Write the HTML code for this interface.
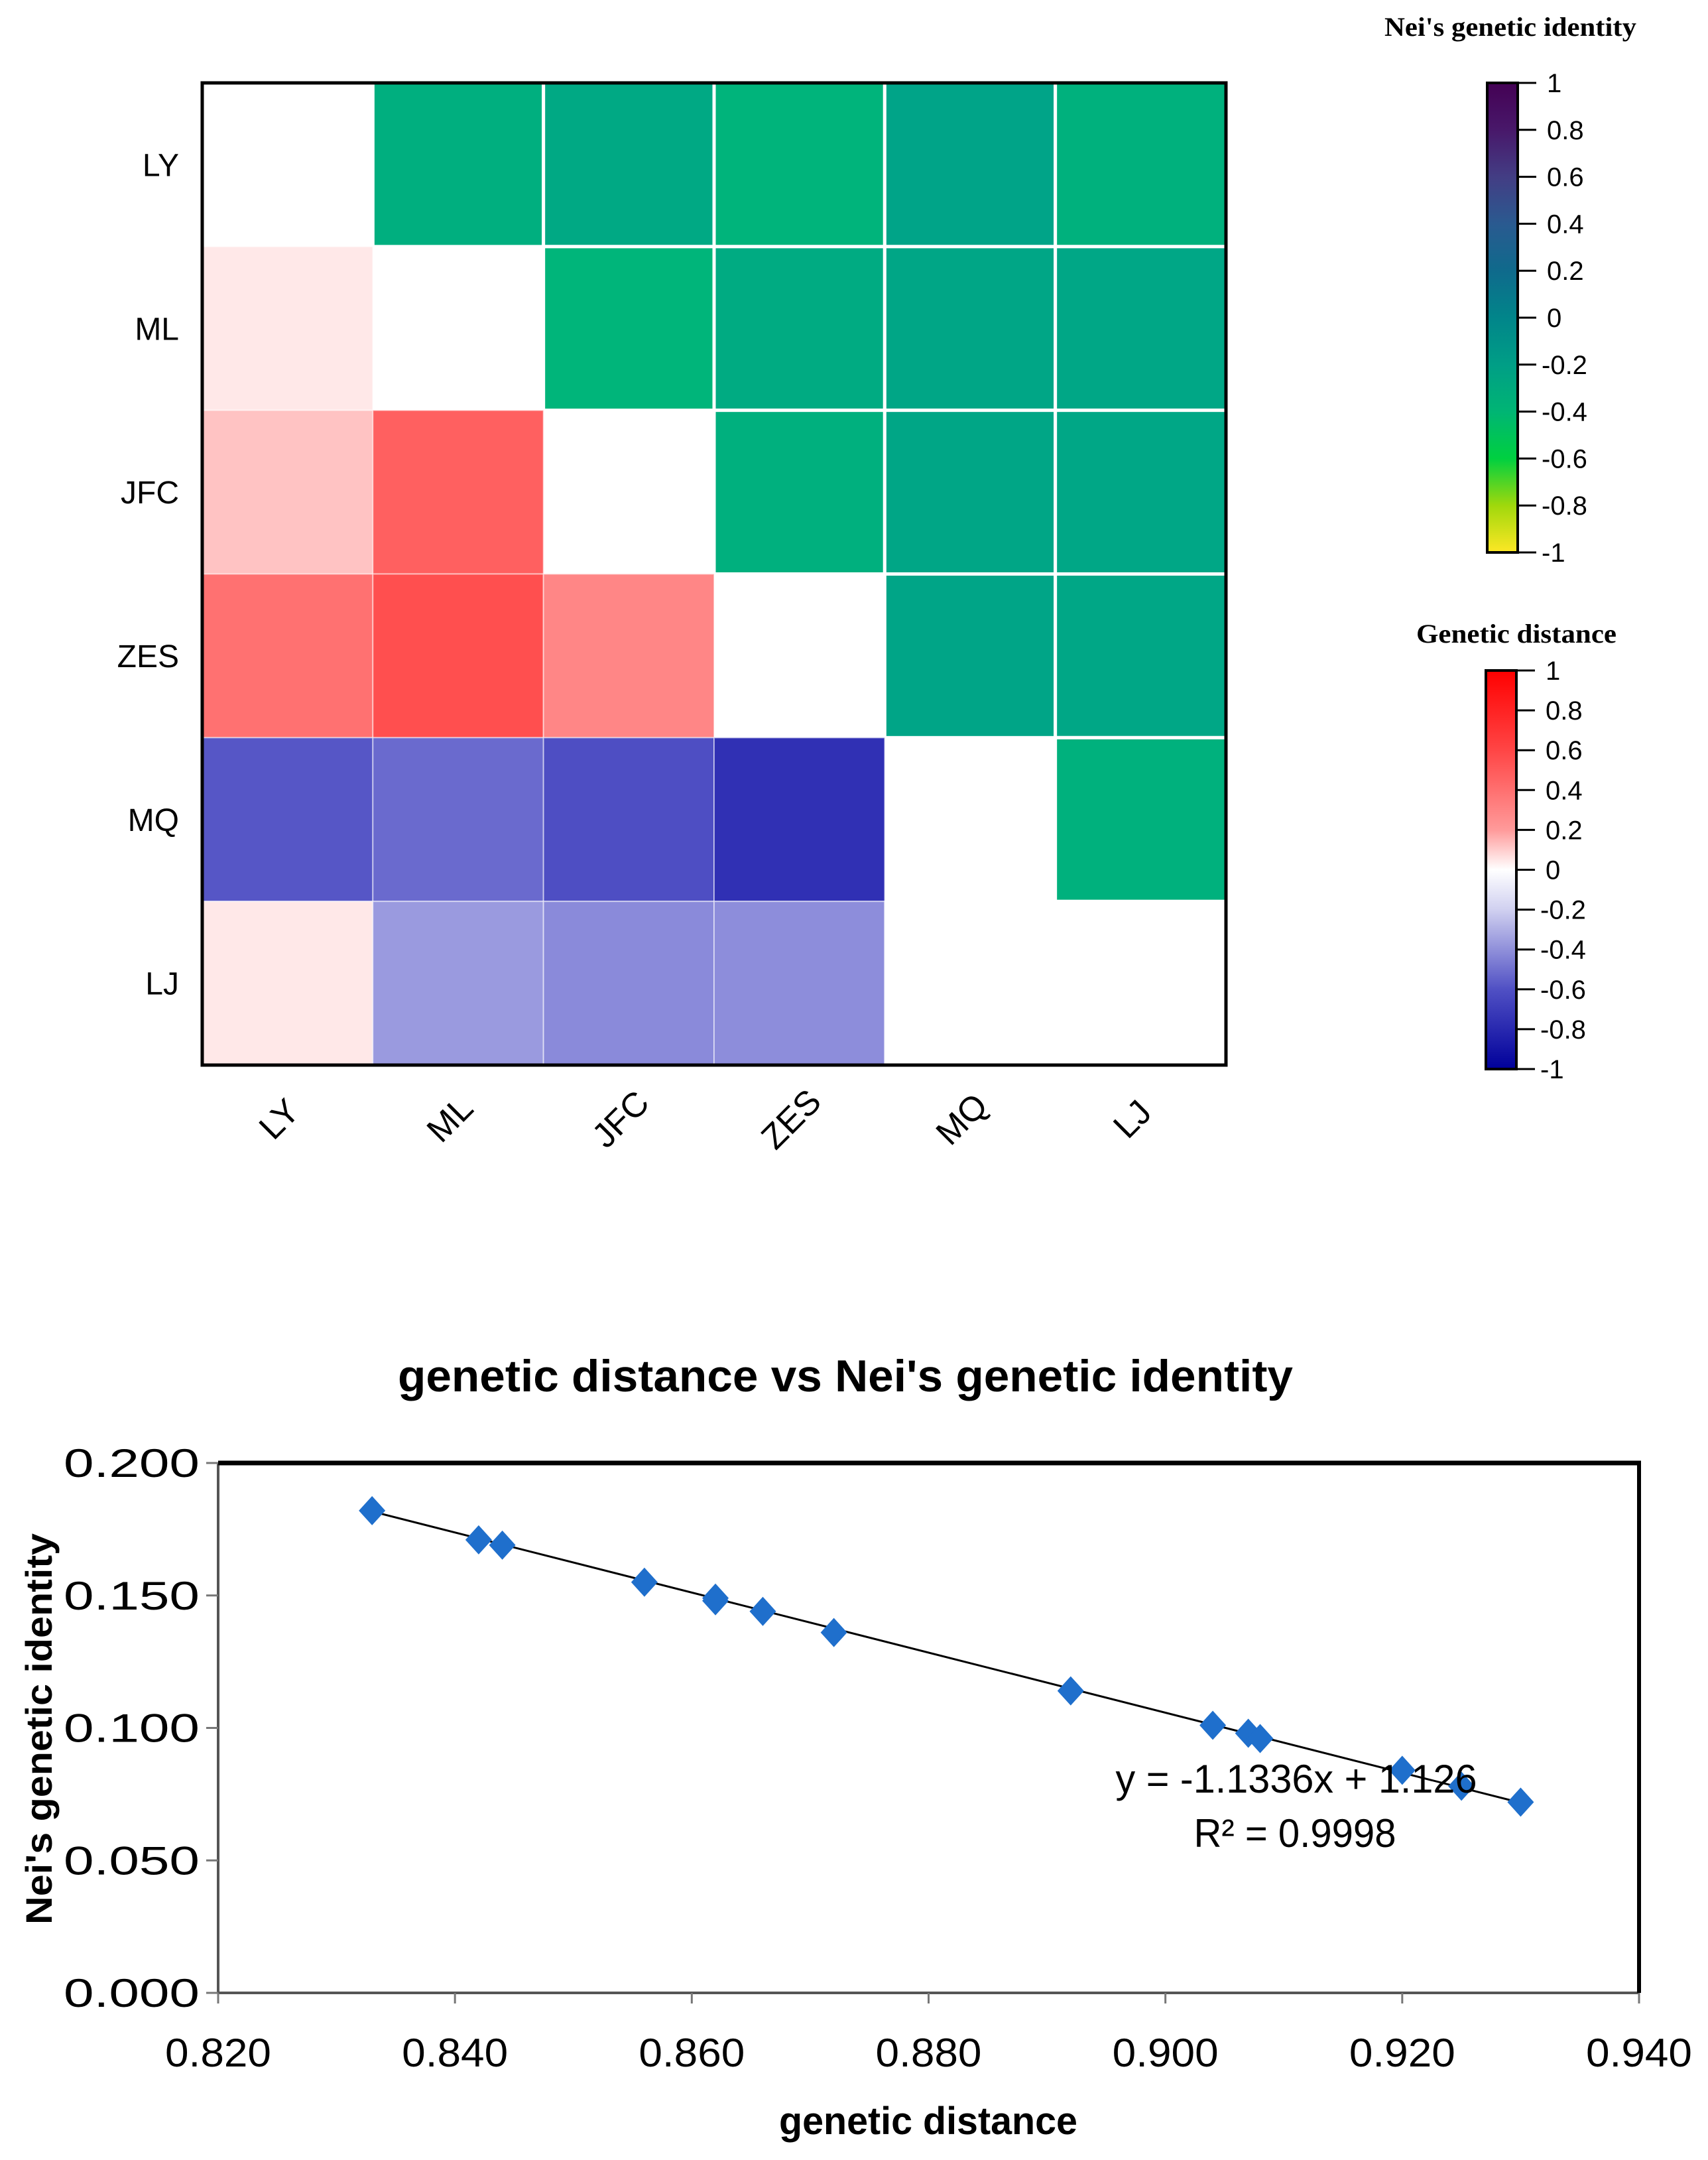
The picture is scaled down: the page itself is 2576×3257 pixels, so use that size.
<!DOCTYPE html>
<html><head><meta charset="utf-8"><style>
html,body{margin:0;padding:0;background:#fff;}
svg{display:block;}
</style></head><body>
<svg id="root" width="2576" height="3257" viewBox="0 0 2576 3257" xmlns="http://www.w3.org/2000/svg">
<defs>
<linearGradient id="gId" x1="0" y1="0" x2="0" y2="1">
<stop offset="0" stop-color="#440154"/><stop offset="0.1" stop-color="#48186a"/><stop offset="0.2" stop-color="#433d84"/><stop offset="0.3" stop-color="#2a5a90"/><stop offset="0.4" stop-color="#0f6a8c"/><stop offset="0.5" stop-color="#01858a"/><stop offset="0.6" stop-color="#009e86"/><stop offset="0.7" stop-color="#00b574"/><stop offset="0.8" stop-color="#00d040"/><stop offset="0.9" stop-color="#a0d80c"/><stop offset="1" stop-color="#fde725"/>
</linearGradient>
<linearGradient id="gGd" x1="0" y1="0" x2="0" y2="1">
<stop offset="0" stop-color="#ff0000"/><stop offset="0.2" stop-color="#ff4545"/><stop offset="0.4" stop-color="#ff9a9a"/><stop offset="0.5" stop-color="#ffffff"/><stop offset="0.6" stop-color="#d0d0f0"/><stop offset="0.8" stop-color="#5050c4"/><stop offset="1" stop-color="#00009a"/>
</linearGradient>
</defs>
<g id="heat"></g>
<g id="cb"></g>
<g id="scat"></g>
</svg>
<script>
// ---- heatmap data ----
const labels = ["LY","ML","JFC","ZES","MQ","LJ"];
const identityVals = [
 [null,-0.32,-0.27,-0.37,-0.22,-0.34],
 [null,null,-0.38,-0.29,-0.24,-0.25],
 [null,null,null,-0.33,-0.24,-0.25],
 [null,null,null,null,-0.23,-0.25],
 [null,null,null,null,null,-0.34],
 [null,null,null,null,null,null]];
const distanceVals = [
 [null,null,null,null,null,null],
 [0.10,null,null,null,null,null],
 [0.25,0.60,null,null,null,null],
 [0.54,0.67,0.47,null,null,null],
 [-0.58,-0.52,-0.61,-0.76,null,null],
 [0.10,-0.37,-0.42,-0.41,0.00,null]];
const cbTicks = ["1","0.8","0.6","0.4","0.2","0","-0.2","-0.4","-0.6","-0.8","-1"];
// ---- scatter data ----
const xs = [0.833,0.842,0.844,0.856,0.862,0.862,0.866,0.872,0.892,0.904,0.907,0.908,0.920,0.925,0.930];
const ys = [0.182,0.171,0.169,0.155,0.149,0.148,0.144,0.136,0.114,0.101,0.098,0.096,0.084,0.078,0.072];
const xTicks = ["0.820","0.840","0.860","0.880","0.900","0.920","0.940"];
const yTicks = ["0.000","0.050","0.100","0.150","0.200"];
const slope = -1.1336, intercept = 1.126;

const NS="http://www.w3.org/2000/svg";
function mk(tag,attrs,parent,text){const e=document.createElementNS(NS,tag);for(const k in attrs)e.setAttribute(k,attrs[k]);if(text!==undefined)e.textContent=text;parent.appendChild(e);return e;}
function lerpStops(stops,v){for(let i=0;i<stops.length-1;i++){const a=stops[i],b=stops[i+1];if(v>=a[0]&&v<=b[0]){const t=(v-a[0])/(b[0]-a[0]);const c=a[1].map((x,j)=>Math.round(x+(b[1][j]-x)*t));return `rgb(${c[0]},${c[1]},${c[2]})`;}}return "#fff";}
const idStops=[[-1,[253,231,37]],[-0.8,[160,216,12]],[-0.6,[0,208,64]],[-0.4,[0,183,120]],[-0.2,[0,162,138]],[0,[1,140,140]],[0.2,[15,106,140]],[0.4,[42,90,144]],[0.6,[67,61,132]],[0.8,[72,24,106]],[1,[68,1,84]]];
const gdStops=[[-1,[0,0,154]],[-0.8,[40,40,176]],[-0.6,[80,80,196]],[-0.4,[144,144,220]],[-0.2,[208,208,240]],[0,[255,255,255]],[0.2,[255,208,208]],[0.4,[255,154,154]],[0.6,[255,96,96]],[0.8,[255,48,48]],[1,[255,0,0]]];

const H=document.getElementById('heat');
const hx0=305,hx1=1849,hy0=125,hy1=1606;
const cw=(hx1-hx0)/labels.length, ch=(hy1-hy0)/labels.length;
const colX=i=>hx0+i*cw, rowY=i=>hy0+i*ch;
for(let r=0;r<labels.length;r++){for(let c=0;c<labels.length;c++){
 let fill="#ffffff",stroke="none";
 if(identityVals[r][c]!==null){fill=lerpStops(idStops,identityVals[r][c]);stroke="#ffffff";}
 else if(distanceVals[r][c]!==null){fill=lerpStops(gdStops,distanceVals[r][c]);stroke="rgba(255,255,255,0.5)";}
 const e=mk('rect',{x:colX(c),y:rowY(r),width:cw,height:ch,fill:fill,stroke:stroke,'stroke-width':identityVals[r][c]!==null?5:2},H);
 
 
}}
let fr=mk('rect',{x:hx0,y:hy0,width:hx1-hx0,height:hy1-hy0,fill:'none',stroke:'#000','stroke-width':5},H);

labels.forEach((l,i)=>{
 const t=mk('text',{x:270,y:rowY(i)+ch/2+17,'text-anchor':'end','font-family':'Liberation Sans, sans-serif','font-size':48},H,l);
 
 const cx=colX(i)+cw/2, cy=1700;
 const t2=mk('text',{x:cx,y:cy,'text-anchor':'middle','font-family':'Liberation Sans, sans-serif','font-size':52,transform:`rotate(-45 ${cx} ${cy})`},H,l);
 
});

const CB=document.getElementById('cb');
function colorbar(title,tx,ty,tw,bx,by0,by1,grad,name){
 const g=mk('g',{},CB);
 const t=mk('text',{x:tx,y:ty,'text-anchor':'middle','font-family':'Liberation Serif, serif','font-weight':'bold','font-size':40,textLength:tw,lengthAdjust:'spacingAndGlyphs'},g,title);
 
 mk('rect',{x:bx,y:by0,width:46,height:by1-by0,fill:`url(#${grad})`,stroke:'#000','stroke-width':4},g);
 cbTicks.forEach((lab,i)=>{const y=by0+(by1-by0)*i/(cbTicks.length-1);
  mk('line',{x1:bx+46,x2:bx+74,y1:y,y2:y,stroke:'#000','stroke-width':3},g);
  const tt=mk('text',{x:bx+(lab[0]==='-'?82:90),y:y+14,'font-family':'Liberation Sans, sans-serif','font-size':40},g,lab);
  });
}
colorbar("Nei's genetic identity",2278,54,380,2243,125,833,'gId','identity-colorbar');
colorbar("Genetic distance",2287,969,302,2241,1011,1612,'gGd','distance-colorbar');

const S=document.getElementById('scat');
const px0=329,px1=2472,py0=2206,py1=3005;
const xMin=0.82,xMax=0.94,yMin=0,yMax=0.2;
const sx=v=>px0+(v-xMin)/(xMax-xMin)*(px1-px0);
const sy=v=>py1-(v-yMin)/(yMax-yMin)*(py1-py0);
let tt=mk('text',{x:1275,y:2098,'text-anchor':'middle','font-family':'Liberation Sans, sans-serif','font-weight':'bold','font-size':68,textLength:1350,lengthAdjust:'spacingAndGlyphs'},S,"genetic distance vs Nei's genetic identity");

mk('line',{x1:px0,x2:px0,y1:py0,y2:py1,stroke:'#555','stroke-width':4},S);
mk('line',{x1:px0,x2:px1,y1:py1,y2:py1,stroke:'#555','stroke-width':4},S);
mk('line',{x1:px0,x2:px1+3,y1:py0,y2:py0,stroke:'#000','stroke-width':7},S);
mk('line',{x1:px1,x2:px1,y1:py0,y2:py1,stroke:'#000','stroke-width':6},S);
yTicks.forEach(l=>{const y=sy(parseFloat(l));mk('line',{x1:px0-18,x2:px0,y1:y,y2:y,stroke:'#777','stroke-width':3},S);
 const e=mk('text',{x:px0-28,y:y+21,'text-anchor':'end','font-family':'Liberation Sans, sans-serif','font-size':60,textLength:205,lengthAdjust:'spacingAndGlyphs'},S,l);
 });
xTicks.forEach(l=>{const x=sx(parseFloat(l));mk('line',{x1:x,x2:x,y1:py1,y2:py1+16,stroke:'#777','stroke-width':3},S);
 const e=mk('text',{x:x,y:3116,'text-anchor':'middle','font-family':'Liberation Sans, sans-serif','font-size':60,textLength:160,lengthAdjust:'spacingAndGlyphs'},S,l);
 });
let xt=mk('text',{x:1400,y:3218,'text-anchor':'middle','font-family':'Liberation Sans, sans-serif','font-weight':'bold','font-size':58,textLength:450,lengthAdjust:'spacingAndGlyphs'},S,'genetic distance');

let yt=mk('text',{x:0,y:0,'text-anchor':'middle','font-family':'Liberation Sans, sans-serif','font-weight':'bold','font-size':56,transform:'translate(78 2607) rotate(-90)',textLength:590,lengthAdjust:'spacingAndGlyphs'},S,"Nei's genetic identity");

const xa=Math.min(...xs), xb=Math.max(...xs);
let tl=mk('line',{x1:sx(xa),y1:sy(slope*xa+intercept),x2:sx(xb),y2:sy(slope*xb+intercept),stroke:'#000','stroke-width':3},S);

xs.forEach((x,i)=>{const cx=sx(x),cy=sy(ys[i]);
 const d=mk('polygon',{points:`${cx},${cy-22} ${cx+20},${cy} ${cx},${cy+22} ${cx-20},${cy}`,fill:'#1f6fcc'},S);
 });
let eq=mk('text',{x:1955,y:2703,'text-anchor':'middle','font-family':'Liberation Sans, sans-serif','font-size':60,textLength:545,lengthAdjust:'spacingAndGlyphs'},S,'y = -1.1336x + 1.126');

let r2=mk('text',{x:1953,y:2785,'text-anchor':'middle','font-family':'Liberation Sans, sans-serif','font-size':60,textLength:305,lengthAdjust:'spacingAndGlyphs'},S,'R² = 0.9998');

</script>
</body></html>
